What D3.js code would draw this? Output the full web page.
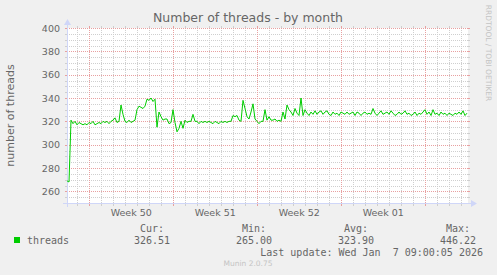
<!DOCTYPE html>
<html>
<head>
<meta charset="utf-8">
<script src="https://cdn.jsdelivr.net/npm/d3@7"></script>
<style>
  html, body { margin: 0; padding: 0; background: #F0F0F0; }
  svg { display: block; }
  text { font-family: "DejaVu Sans", sans-serif; fill: #666666; }
  .mono { font-family: "DejaVu Sans Mono", monospace; }
</style>
</head>
<body>
<script>
// data (one sample every 4 hours)
const startTime = Date.UTC(2025, 11, 5, 3, 30);
const endTime = Date.UTC(2026, 0, 7, 11, 30);
const stepHours = 4;
const threads = [
  269, 268, 321, 318, 320, 317, 319, 318, 317, 318,
  317, 319, 318, 320, 317, 318, 319, 318, 320, 319,
  320, 318, 320, 321, 323, 319, 320, 334, 326, 320,
  319, 321, 319, 320, 321, 330, 333, 332, 331, 333,
  339, 338, 340, 337, 339, 315, 328, 324, 321, 322,
  322, 318, 319, 330, 319, 311, 314, 320, 314, 321,
  319, 320, 320, 326, 320, 320, 318, 320, 319, 320,
  319, 320, 319, 318, 320, 319, 318, 320, 319, 320,
  319, 320, 320, 325, 324, 325, 321, 320, 338, 331,
  324, 322, 328, 335, 322, 320, 318, 320, 320, 330,
  321, 324, 321, 321, 322, 320, 321, 320, 328, 322,
  334, 330, 328, 325, 331, 327, 325, 340, 325, 330,
  327, 325, 328, 326, 329, 326, 328, 329, 326, 328,
  329, 326, 325, 328, 326, 327, 325, 328, 327, 326,
  328, 326, 327, 328, 325, 328, 327, 325, 327, 328,
  326, 327, 326, 331, 327, 325, 327, 329, 326, 327,
  328, 326, 329, 327, 325, 326, 328, 326, 327, 329,
  326, 327, 325, 326, 328, 325, 327, 326, 328, 330,
  326, 328, 325, 330, 326, 327, 325, 328, 326, 327,
  325, 327, 326, 325, 327, 326, 328, 326, 329, 325,
  327
];
const yMajorTicks = [260, 280, 300, 320, 340, 360, 380, 400];
const legendHeads = ["Cur:", "Min:", "Avg:", "Max:"];
const legendValues = ["326.51", "265.00", "323.90", "446.22"];
const lastUpdate = "Last update: Wed Jan  7 09:00:05 2026";

const W = 497, H = 275;
const X0 = 67, X1 = 467, Y0 = 203, Y1 = 28;

const svg = d3.select("body").append("svg")
  .attr("width", W).attr("height", H);

svg.append("rect").attr("width", W).attr("height", H).attr("fill", "#F0F0F0");

const x = d3.scaleUtc().domain([startTime, endTime]).range([X0, X1]);
const y = d3.scaleLinear().domain([250, 400]).range([Y0, Y1]);

svg.append("rect")
  .attr("x", X0).attr("y", Y1)
  .attr("width", X1 - X0 + 1).attr("height", Y0 - Y1)
  .attr("fill", "#ffffff");

const grid = svg.append("g").attr("shape-rendering", "crispEdges");

function vline(px, color) {
  const xx = Math.round(px) + 0.5;
  grid.append("line").attr("x1", xx).attr("x2", xx).attr("y1", Y0).attr("y2", Y0 + 3)
    .attr("stroke", color);
  grid.append("line").attr("x1", xx).attr("x2", xx).attr("y1", Y1 - 2).attr("y2", Y1)
    .attr("stroke", color);
  grid.append("line").attr("x1", xx).attr("x2", xx).attr("y1", Y0).attr("y2", Y1)
    .attr("stroke", color).attr("stroke-dasharray", "1,1");
}
function hline(py, color) {
  const yy = Math.round(py) + 0.5;
  grid.append("line").attr("x1", X0 - 2).attr("x2", X0).attr("y1", yy).attr("y2", yy)
    .attr("stroke", color);
  grid.append("line").attr("x1", X1 + 1).attr("x2", X1 + 3).attr("y1", yy).attr("y2", yy)
    .attr("stroke", color);
  grid.append("line").attr("x1", X0).attr("x2", X1 + 1).attr("y1", yy).attr("y2", yy)
    .attr("stroke", color).attr("stroke-dasharray", "1,1");
}

const minorColor = "#cfcfcf", majorColor = "#e8a0a0";

// minor grid: every day and every 5 threads
const weekStarts = d3.utcSunday.range(startTime, endTime);
d3.utcDay.range(startTime, endTime)
  .filter(d => !weekStarts.some(w => +w === +d))
  .forEach(d => vline(x(d), minorColor));
d3.range(255, 400, 5).filter(v => v % 20 !== 0)
  .forEach(v => hline(y(v), minorColor));

// major grid
weekStarts.forEach(d => vline(x(d), majorColor));
yMajorTicks.forEach(v => hline(y(v), majorColor));

// axes
const axisColor = "#CFD6F8";
svg.append("line").attr("x1", X0 - 4).attr("x2", X1 + 5)
  .attr("y1", Y0 + 0.5).attr("y2", Y0 + 0.5).attr("stroke", axisColor);
svg.append("line").attr("x1", X0 + 0.5).attr("x2", X0 + 0.5)
  .attr("y1", Y0 + 4).attr("y2", Y1 - 4).attr("stroke", axisColor);
svg.append("path")
  .attr("d", `M${X1 + 4},${Y0 - 3} L${X1 + 10},${Y0 + 0.5} L${X1 + 4},${Y0 + 4} Z`)
  .attr("fill", axisColor);
svg.append("path")
  .attr("d", `M${X0 - 3},${Y1 - 3} L${X0 + 0.5},${Y1 - 9} L${X0 + 4},${Y1 - 3} Z`)
  .attr("fill", axisColor);

// data line
const line = d3.line()
  .x((d, i) => x(startTime + i * stepHours * 3600e3))
  .y(d => y(d));
svg.append("path")
  .datum(threads)
  .attr("d", line)
  .attr("fill", "none")
  .attr("stroke", "#00CC00")
  .attr("stroke-width", 1);

// y tick labels
svg.append("g").selectAll("text")
  .data(yMajorTicks).enter().append("text")
  .attr("x", X0 - 7).attr("y", d => y(d) + 3.5)
  .attr("text-anchor", "end")
  .style("font-size", "9.5px")
  .text(d => d);

// week labels, centred in the week
svg.append("g").selectAll("text")
  .data(weekStarts.map(d => d3.utcHour.offset(d, 84)).filter(d => d <= endTime))
  .enter().append("text")
  .attr("x", d => x(d)).attr("y", Y0 + 13)
  .attr("text-anchor", "middle")
  .style("font-size", "9.5px")
  .text(d => "Week " + d3.utcFormat("%V")(d));

// title and axis label
svg.append("text").attr("x", 248).attr("y", 21.5)
  .attr("text-anchor", "middle").style("font-size", "12.5px")
  .text("Number of threads - by month");
svg.append("text")
  .attr("transform", `translate(14,${(Y0 + Y1) / 2}) rotate(-90)`)
  .attr("text-anchor", "middle").style("font-size", "11px")
  .text("number of threads");
svg.append("text")
  .attr("transform", "translate(486,53) rotate(90)")
  .attr("text-anchor", "middle").style("font-size", "7.5px").style("fill", "#c4c4c4")
  .text("RRDTOOL / TOBI OETIKER");

// legend
svg.append("rect").attr("x", 14).attr("y", 237).attr("width", 6).attr("height", 6)
  .attr("fill", "#00CC00");
svg.append("text").attr("class", "mono").attr("x", 27).attr("y", 243.5)
  .style("font-size", "10px").text("threads");
const colRight = [164, 266, 368, 470];
svg.append("g").selectAll("text").data(legendHeads).enter().append("text")
  .attr("class", "mono").attr("x", (d, i) => colRight[i]).attr("y", 231.5)
  .attr("text-anchor", "end").style("font-size", "10px").text(d => d);
svg.append("g").selectAll("text").data(legendValues).enter().append("text")
  .attr("class", "mono").attr("x", (d, i) => colRight[i] + 6).attr("y", 243.5)
  .attr("text-anchor", "end").style("font-size", "10px").text(d => d);
svg.append("text").attr("class", "mono").attr("x", 483).attr("y", 255.5)
  .attr("text-anchor", "end").style("font-size", "10px")
  .style("white-space", "pre").attr("xml:space", "preserve")
  .text(lastUpdate);
svg.append("text").attr("x", 248).attr("y", 266)
  .attr("text-anchor", "middle").style("font-size", "7.5px").style("fill", "#c4c4c4")
  .text("Munin 2.0.75");
</script>
</body>
</html>
